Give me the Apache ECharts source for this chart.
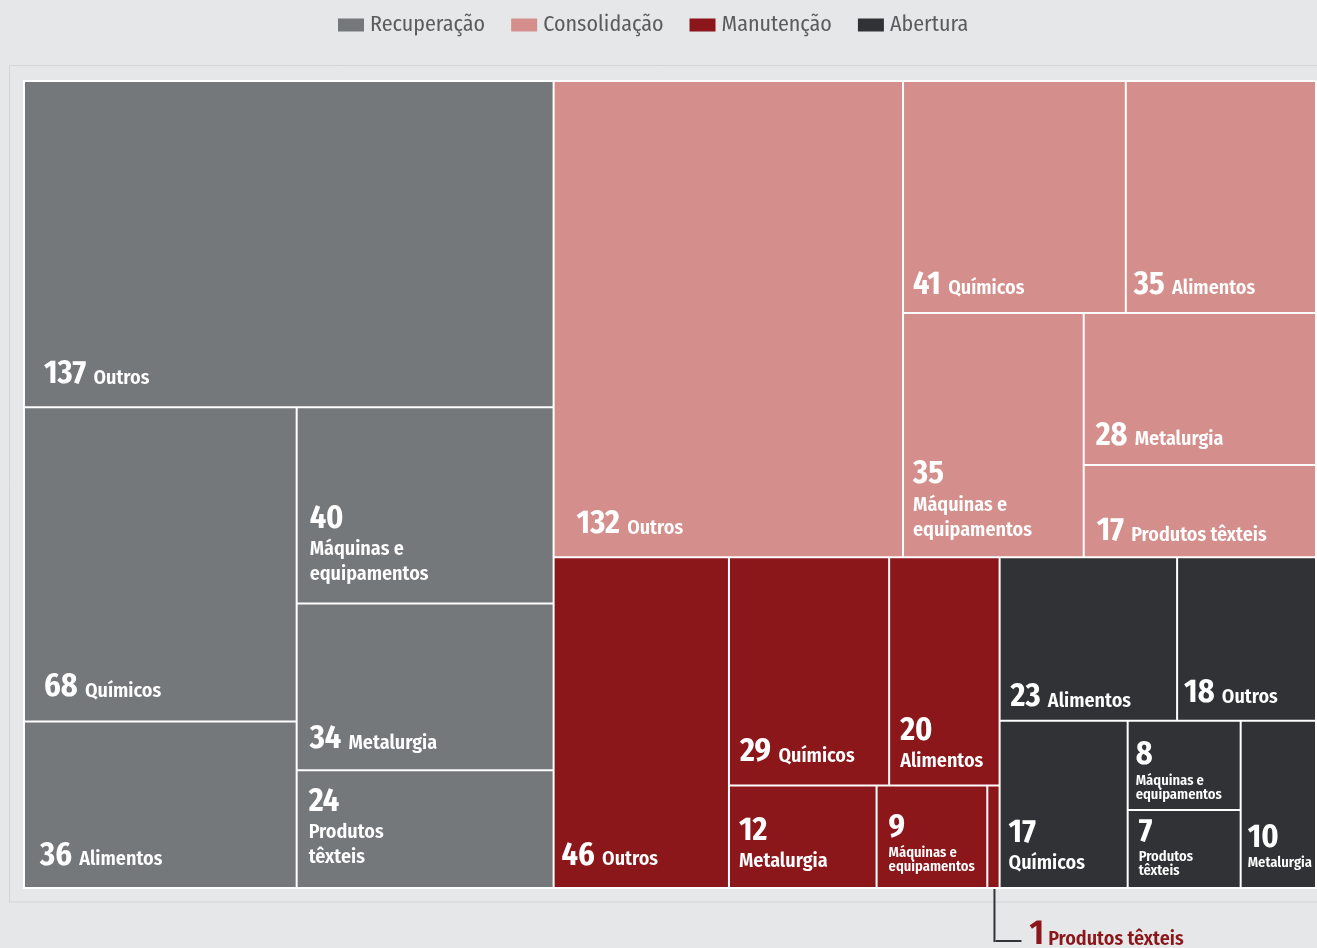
<!DOCTYPE html>
<html>
<head>
<meta charset="utf-8">
<script src="https://cdn.jsdelivr.net/npm/echarts@6/dist/echarts.min.js"></script>
<style>
  html, body { margin: 0; padding: 0; background: #e6e7e9; }
  #main { width: 1317px; height: 948px; }
</style>
</head>
<body>
<div id="main"></div>
<script>
// ---------------- DATA ----------------
const groupNames = ['Recuperação', 'Consolidação', 'Manutenção', 'Abertura'];

const recuperacaoSectors = ['Outros', 'Químicos', 'Alimentos', 'Máquinas e equipamentos', 'Metalurgia', 'Produtos têxteis'];
const recuperacaoValues  = [137, 68, 36, 40, 34, 24];

const consolidacaoSectors = ['Outros', 'Químicos', 'Alimentos', 'Máquinas e equipamentos', 'Metalurgia', 'Produtos têxteis'];
const consolidacaoValues  = [132, 41, 35, 35, 28, 17];

const manutencaoSectors = ['Outros', 'Químicos', 'Alimentos', 'Metalurgia', 'Máquinas e equipamentos', 'Produtos têxteis'];
const manutencaoValues  = [46, 29, 20, 12, 9, 1];

const aberturaSectors = ['Alimentos', 'Outros', 'Químicos', 'Máquinas e equipamentos', 'Produtos têxteis', 'Metalurgia'];
const aberturaValues  = [23, 18, 17, 8, 7, 10];

// ---------------- STYLE ----------------
const FONT = "'Fira Sans Condensed', 'Roboto Condensed', 'Open Sans Condensed', sans-serif";
const groupColors = {
  'Recuperação': '#75787b',
  'Consolidação': '#d48e8c',
  'Manutenção': '#8b171b',
  'Abertura': '#313235'
};
const groupSectors = [recuperacaoSectors, consolidacaoSectors, manutencaoSectors, aberturaSectors];
const groupValues = [recuperacaoValues, consolidacaoValues, manutencaoValues, aberturaValues];

// label form per cell: inline = "N name", stack = N over name lines, small = N over small name lines
const labelStyles = {
  'Recuperação|Outros': { form: 'inline', padL: 19, gapB: 22 },
  'Recuperação|Químicos': { form: 'inline', padL: 19, gapB: 23 },
  'Recuperação|Alimentos': { form: 'inline', padL: 15, gapB: 21 },
  'Recuperação|Máquinas e equipamentos': { form: 'stack', padL: 12, gapB: 22 },
  'Recuperação|Metalurgia': { form: 'inline', padL: 12, gapB: 20 },
  'Recuperação|Produtos têxteis': { form: 'stack', padL: 11, gapB: 23 },

  'Consolidação|Outros': { form: 'inline', padL: 22, gapB: 22 },
  'Consolidação|Químicos': { form: 'inline', padL: 9, gapB: 17 },
  'Consolidação|Alimentos': { form: 'inline', padL: 7, gapB: 17 },
  'Consolidação|Máquinas e equipamentos': { form: 'stack', padL: 9, gapB: 20 },
  'Consolidação|Metalurgia': { form: 'inline', padL: 11, gapB: 18 },
  'Consolidação|Produtos têxteis': { form: 'inline', padL: 12, gapB: 15, oneLine: true },

  'Manutenção|Outros': { form: 'inline', padL: 7, gapB: 21 },
  'Manutenção|Químicos': { form: 'inline', padL: 10, gapB: 22 },
  'Manutenção|Alimentos': { form: 'stack', padL: 10, gapB: 17 },
  'Manutenção|Metalurgia': { form: 'stack', padL: 9, gapB: 19 },
  'Manutenção|Máquinas e equipamentos': { form: 'small', padL: 11, gapB: 16 },
  'Manutenção|Produtos têxteis': { form: 'callout' },

  'Abertura|Alimentos': { form: 'inline', padL: 10, gapB: 12 },
  'Abertura|Outros': { form: 'inline', padL: 6, gapB: 16 },
  'Abertura|Químicos': { form: 'stack', padL: 8, gapB: 17 },
  'Abertura|Máquinas e equipamentos': { form: 'small', padL: 7, gapB: 10 },
  'Abertura|Produtos têxteis': { form: 'small', padL: 10, gapB: 12 },
  'Abertura|Metalurgia': { form: 'small', padL: 6, gapB: 20 }
};
const nameBreaks = {
  'Máquinas e equipamentos': ['Máquinas e', 'equipamentos'],
  'Produtos têxteis': ['Produtos', 'têxteis']
};
const LH = { n: 36, m: 25, s: 14 };
const BASE_D = { inline: 7.3, stack: 5.8, small: 2.1 };

function nameLines(st, name) {
  if (st.oneLine) return [name];
  return nameBreaks[name] || [name];
}
function labelText(st, name, value) {
  if (st.form === 'inline') return '{n|' + value + '}{t| ' + name + '}';
  if (st.form === 'stack') return '{n|' + value + '}\n' + nameLines(st, name).map(l => '{m|' + l + '}').join('\n');
  if (st.form === 'small') return '{n|' + value + '}\n' + nameLines(st, name).map(l => '{s|' + l + '}').join('\n');
  return '{vb|}{hb|}{sp|}{c1|' + value + '}{c2| ' + name + '}';
}
function contentHeight(st, name) {
  const k = nameLines(st, name).length;
  if (st.form === 'inline') return LH.n;
  if (st.form === 'stack') return LH.n + LH.m * k;
  return LH.n + LH.s * k;
}

const rich = {
  n: { fontFamily: FONT, fontSize: 32, fontWeight: 700, color: '#fff', lineHeight: 36, align: 'left' },
  t: { fontFamily: FONT, fontSize: 20, fontWeight: 600, color: '#fff', lineHeight: 36, padding: [8, 0, 0, 3], align: 'left' },
  m: { fontFamily: FONT, fontSize: 20, fontWeight: 600, color: '#fff', lineHeight: 25, align: 'left' },
  s: { fontFamily: FONT, fontSize: 14.5, fontWeight: 600, color: '#fff', lineHeight: 14, align: 'left' },
  vb: { width: 2, height: 53, lineHeight: 53, backgroundColor: '#333438', verticalAlign: 'top', align: 'left' },
  hb: { width: 26, height: 2, lineHeight: 2, backgroundColor: '#333438', verticalAlign: 'bottom', align: 'left' },
  sp: { width: 8, height: 2, lineHeight: 2, align: 'left' },
  c1: { fontFamily: FONT, fontSize: 34, fontWeight: 700, color: '#8b171b', height: 14, lineHeight: 10, verticalAlign: 'bottom', align: 'left' },
  c2: { fontFamily: FONT, fontSize: 20, fontWeight: 600, color: '#8b171b', height: 6, lineHeight: 10, verticalAlign: 'bottom', align: 'left' }
};

function sum(arr) { return arr.reduce((a, b) => a + b, 0); }

function buildOption(pads) {
  const treeData = groupNames.map((g, gi) => ({
    name: g,
    itemStyle: { color: groupColors[g] },
    children: groupSectors[gi].map((s, si) => {
      const key = g + '|' + s;
      const st = labelStyles[key];
      const item = {
        name: s,
        value: groupValues[gi][si],
        itemStyle: { color: groupColors[g] }
      };
      if (st.form === 'callout') {
        item.label = { position: 'bottom', distance: 2, align: 'left', verticalAlign: 'top', padding: 0, overflow: 'none' };
      } else {
        item.label = { position: 'insideTopLeft', distance: 0, padding: pads[key] || [0, 0, 0, st.padL] };
      }
      return item;
    })
  }));

  return {
    backgroundColor: '#e6e7e9',
    animation: false,
    textStyle: { fontFamily: FONT },
    graphic: [{
      type: 'rect', silent: true, z: -10,
      shape: { x: 9.5, y: 65.5, width: 1400, height: 836.5 },
      style: { fill: 'none', stroke: '#d3d4d6', lineWidth: 1 }
    }],
    legend: {
      data: groupNames,
      left: 333, top: 9,
      icon: 'rect', itemWidth: 26, itemHeight: 13, itemGap: 26,
      selectedMode: false,
      textStyle: { fontFamily: FONT, fontSize: 22, color: '#5b5c5e', padding: [0, 0, 0, 1] }
    },
    series: [{
      type: 'treemap',
      id: 'tm',
      left: 23, top: 80, width: 1294, height: 809,
      squareRatio: 1.05,
      sort: false,
      roam: false,
      nodeClick: false,
      breadcrumb: { show: false },
      visibleMin: 0,
      label: {
        show: true,
        overflow: 'none',
        color: '#fff',
        fontFamily: FONT,
        rich: rich,
        formatter: function (p) {
          const path = p.treePathInfo || [];
          const g = path.length > 1 ? path[1].name : '';
          const st = labelStyles[g + '|' + p.name];
          if (!st) return '';
          return labelText(st, p.name, p.value);
        }
      },
      upperLabel: { show: false },
      emphasis: { disabled: true },
      levels: [
        { itemStyle: { borderWidth: 2, borderColor: '#ffffff', gapWidth: 2 } },
        { itemStyle: { borderWidth: 0, borderColor: '#ffffff', gapWidth: 2 } },
        { itemStyle: { borderWidth: 0, gapWidth: 0 } }
      ],
      data: treeData
    }, {
      type: 'pie',
      name: 'legenda',
      radius: [0, 0],
      center: [-100, -100],
      silent: true,
      label: { show: false },
      labelLine: { show: false },
      data: groupNames.map((g, gi) => ({ name: g, value: sum(groupValues[gi]), itemStyle: { color: groupColors[g] } }))
    }]
  };
}

const chart = echarts.init(document.getElementById('main'));
chart.setOption(buildOption({}));

// Second pass: push each label to the bottom of its cell using the layout computed by ECharts
const pads = {};
try {
  const sm = chart.getModel().getSeriesByIndex(0);
  const tree = sm.getData().tree;
  tree.root.eachNode(function (node) {
    if (node.depth !== 2) return;
    const key = node.parentNode.name + '|' + node.name;
    const st = labelStyles[key];
    if (!st || st.form === 'callout') return;
    const h = node.getLayout().height;
    const ch = contentHeight(st, node.name);
    const padB = Math.max(0, st.gapB - 1 - BASE_D[st.form]);
    pads[key] = [Math.max(0, h - padB - ch - 0.5), 0, padB, st.padL];
  });
} catch (e) { console.log(e); }
chart.setOption(buildOption(pads), true);
</script>
</body>
</html>
